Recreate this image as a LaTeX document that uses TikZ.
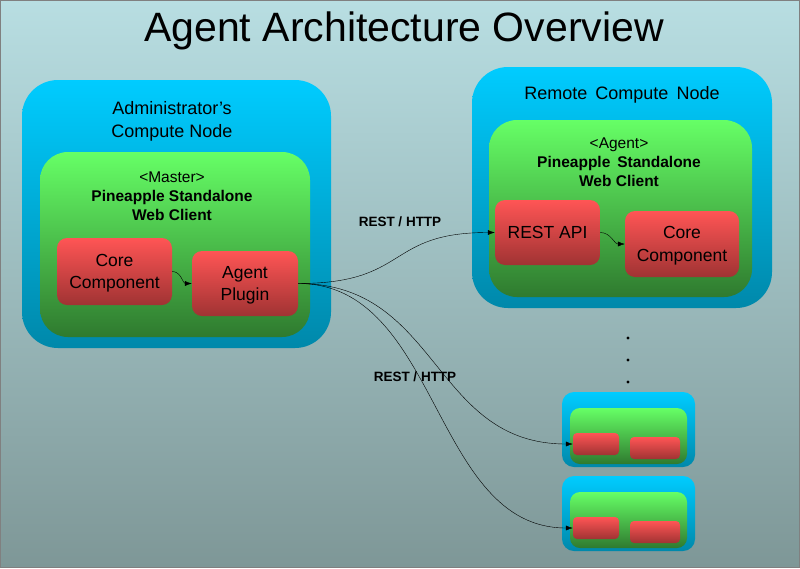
\documentclass[tikz,border=0pt]{standalone}
\usepackage{fontspec}
\setmainfont{Liberation Sans}
\usetikzlibrary{arrows.meta}
\definecolor{bgtop}{HTML}{B8DEE2}
\definecolor{bgbot}{HTML}{7E9797}
\definecolor{hosttop}{HTML}{00CCFF}
\definecolor{hostmid}{HTML}{00B6E2}
\definecolor{hostbot}{HTML}{0088AA}
\definecolor{clienttop}{HTML}{66FF66}
\definecolor{clientbot}{HTML}{2F7A2F}
\definecolor{parttop}{HTML}{FF5555}
\definecolor{partbot}{HTML}{A03333}
\begin{document}
\begin{tikzpicture}[x=1pt, y=-1pt,
  canvas/.style={rectangle, draw=gray, top color=bgtop, bottom color=bgbot, inner sep=0pt},
  hostbox/.style={rectangle, rounded corners=36pt, top color=hosttop, middle color=hostmid, bottom color=hostbot, inner sep=0pt},
  clientbox/.style={rectangle, rounded corners=28pt, top color=clienttop, bottom color=clientbot, inner sep=0pt},
  partbox/.style={rectangle, rounded corners=10pt, top color=parttop, bottom color=partbot, align=center, inner sep=0pt, text depth=0pt, font=\fontsize{17.5}{22.5}\selectfont},
  hostlbl/.style={align=center, font=\fontsize{18}{23}\selectfont},
  clientlbl/.style={align=center, font=\fontsize{15.5}{19}\selectfont},
  link/.style={-{Latex[length=7pt,width=5pt]}, black},
  linklbl/.style={font=\bfseries\fontsize{13.5}{16}\selectfont},
  dotmark/.style={circle, fill=black, inner sep=1.1pt},
]
  \useasboundingbox (0,0) rectangle (800,568);
  \node[canvas, minimum width=799pt, minimum height=567pt] (sky) at (400,284) {};

  % Title
  \node[font=\fontsize{41}{48}\selectfont] (title) at (404,31) {Agent Architecture Overview};

  % Administrator's compute node
  \node[hostbox, minimum width=309pt, minimum height=268pt] (admin) at (176.5,214) {};
  \node[hostlbl] (adminlbl) at (172,121) {Administrator’s\\Compute Node};
  \node[clientbox, minimum width=270pt, minimum height=185pt] (master) at (175,244.5) {};
  \node[clientlbl] (masterlbl) at (172,196) {<Master>\\\textbf{Pineapple Standalone}\\\textbf{Web Client}};
  \node[partbox, minimum width=115pt, minimum height=67pt] (core) at (114.5,271.5) {Core\\Component};
  \node[partbox, minimum width=106pt, minimum height=65pt] (plugin) at (245,283.5) {Agent\\Plugin};

  % Remote compute node
  \node[hostbox, minimum width=300pt, minimum height=241pt] (remote) at (622,187.5) {};
  \node[hostlbl] (remotelbl) at (622,95) {Remote\, Compute\, Node};
  \node[clientbox, minimum width=263pt, minimum height=177pt] (agent) at (620.5,208.5) {};
  \node[clientlbl] (agentlbl) at (619,162) {<Agent>\\\textbf{Pineapple\, Standalone}\\\textbf{Web Client}};
  \node[partbox, minimum width=105pt, minimum height=65pt] (restapi) at (547.5,232.5) {REST API};
  \node[partbox, minimum width=114pt, minimum height=66pt] (remcore) at (682,244) {Core\\Component};

  % More remote nodes
  \foreach \i/\y in {1/338, 2/360, 3/382}
    \node[dotmark] (dot\i) at (628,\y) {};
  \foreach \i/\d in {1/0, 2/84} {
    \node[hostbox, rounded corners=12pt, minimum width=133pt, minimum height=75pt] (small\i) at (628.5,429.5+\d) {};
    \node[clientbox, rounded corners=10pt, minimum width=117pt, minimum height=56pt] (smallc\i) at (628.5,436+\d) {};
    \node[partbox, rounded corners=4pt, minimum width=46pt, minimum height=22pt] (small\i a) at (596,444+\d) {};
    \node[partbox, rounded corners=4pt, minimum width=50pt, minimum height=22pt] (small\i b) at (655,448+\d) {};
  }

  % Internal calls
  \draw[link] (core.east) to[out=0, in=180] (plugin.west);
  \draw[link] (restapi.east) to[out=0, in=180] (remcore.west);

  % REST calls
  \draw[link] (plugin.east) .. controls (410,283.5) and (385,232.5) .. (restapi.west);
  \draw[link] (plugin.east) .. controls (440,283.5) and (432,444) .. (small1a.west);
  \draw[link] (plugin.east) .. controls (440,283.5) and (432,528) .. (small2a.west);
  \node[linklbl] (restlbl1) at (400,222) {REST / HTTP};
  \node[linklbl] (restlbl2) at (415,377) {REST / HTTP};
\end{tikzpicture}
\end{document}
